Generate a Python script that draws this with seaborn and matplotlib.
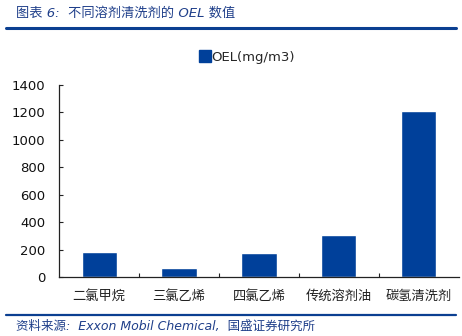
import numpy as np
import pandas as pd
import matplotlib
matplotlib.use("Agg")
import matplotlib.pyplot as plt
from matplotlib.lines import Line2D
import seaborn as sns

sns.set_theme(style="white")
plt.rcParams['font.family'] = ['DejaVu Sans', 'Noto Sans CJK SC']

categories = ["二氯甲烷", "三氯乙烯", "四氯乙烯", "传统溶剂油", "碳氢清洗剂"]
oel_values = [182, 65, 178, 310, 1210]
series_name = "OEL(mg/m3)"
y_ticks = [0, 200, 400, 600, 800, 1000, 1200, 1400]

bar_color = "#00409A"
title_color = "#1F3F8A"

df = pd.DataFrame({"cat": categories, "val": oel_values})

fig = plt.figure(figsize=(4.62, 3.36), dpi=100)
ax = fig.add_axes([0.128, 0.175, 0.865, 0.572])

sns.barplot(data=df, x="cat", y="val", color=bar_color, width=0.44,
            saturation=1, ax=ax)

ax.set_ylim(0, 1400)
ax.set_xlim(-0.5, 4.5)
ax.set_yticks(y_ticks)
ax.set_yticklabels([str(t) for t in y_ticks], fontsize=9.5, color="#111111")
ax.set_xticks(range(len(categories)))
ax.set_xticklabels(categories, fontsize=9.5, color="#222222",
                   family=['Noto Sans CJK SC'])
ax.set_xlabel("")
ax.set_ylabel("")
for s in ["top", "right"]:
    ax.spines[s].set_visible(False)
for s in ["left", "bottom"]:
    ax.spines[s].set_color("#222222")
    ax.spines[s].set_linewidth(0.9)
ax.tick_params(axis="y", direction="in", length=3, width=0.8, color="#222222", pad=10, left=True)
ax.tick_params(axis="x", length=0, pad=9)
# small separator ticks between categories
ax.set_xticks([0.5, 1.5, 2.5, 3.5], minor=True)
ax.tick_params(axis="x", which="minor", direction="in", length=3, width=0.8,
               color="#222222", bottom=True)
ax.grid(False)

handle = Line2D([], [], marker="s", linestyle="none", markersize=8,
                markerfacecolor=bar_color, markeredgecolor=bar_color)
fig.legend([handle], [series_name], loc="center", bbox_to_anchor=(0.535, 0.83),
           frameon=False, fontsize=9.5, handletextpad=0.05, handlelength=0.8)

# header
fig.text(0.035, 0.962, "图表 6:  不同溶剂清洗剂的 OEL 数值", fontsize=9.5,
         color=title_color, style="italic", va="center", ha="left")
fig.add_artist(Line2D([0.013, 0.988], [0.918, 0.918], color="#0B3F91", linewidth=2.2))

# footer
fig.add_artist(Line2D([0.013, 0.988], [0.062, 0.062], color="#0B3F91", linewidth=1.6))
fig.text(0.035, 0.03, "资料来源:  Exxon Mobil Chemical,  国盛证券研究所", fontsize=9,
         color=title_color, style="italic", va="center", ha="left")

fig.savefig("out.png", dpi=100)
